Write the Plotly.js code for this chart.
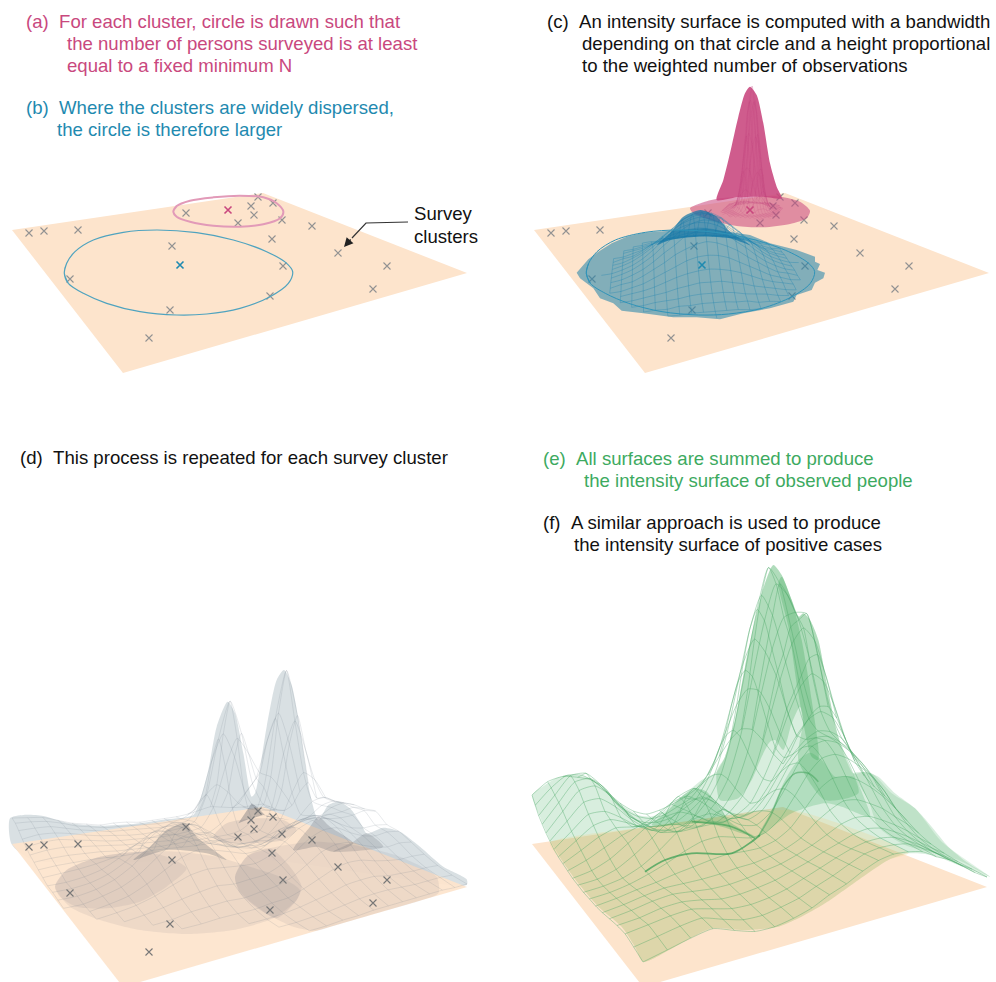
<!DOCTYPE html>
<html><head><meta charset="utf-8">
<script src="https://cdn.plot.ly/plotly-3.0.1.min.js"></script>
<style>html,body{margin:0;padding:0;background:#fff}#g{width:996px;height:982px}</style>
</head><body><div id="g"></div>
<script>
// ---------- data ----------
const planeCorners = {near:[123,373], right:[467,273], left:[12,230], back:[263,193]};
const clusterX = [29,44,78,186,258,273,251,254,238,282,312,272,172,283,338,387,373,70,270,170,149];
const clusterY = [233,231,230,213,197,203,206,215,223,220,226,239,246,266,253,266,289,279,296,310,338];
const pinkCentre = [228,210];
const blueCentre = [180,265];
// rings, in 3x crop coordinates of the first panel
const pinkRing = [[520,95],[530,78],[570,62],[640,52],[720,47],[790,52],[830,70],[850,95],[840,115],[790,133],[720,140],[640,137],[570,125],[530,110]];
const blueRing = [[193,280],[200,250],[225,215],[280,180],[370,157],[470,150],[590,158],[700,180],[800,215],[860,250],[878,275],[865,310],[810,350],[720,385],[620,402],[530,405],[420,395],[320,370],[250,340],[205,310]];
const arrowLine = [[408,222],[366,223],[352,238]];
// panel c outlines
const blueDisc = [[140,578],[165,550],[175,538],[205,515],[245,490],[290,470],[340,458],[420,452],[520,445],[660,465],[720,490],[800,510],[855,530],[855,545],[870,552],[862,570],[885,578],[880,595],[855,608],[845,630],[800,645],[790,665],[720,685],[640,700],[570,718],[500,712],[430,712],[340,700],[275,692],[250,670],[210,655],[190,625],[150,595]];
const blueDome = [[380,495],[420,460],[460,410],[512,390],[560,410],[600,455],[660,495],[600,475],[500,470],[420,480]];
const pinkPeak = [[560,360],[580,300],[600,220],[625,110],[645,40],[660,20],[680,45],[700,130],[720,250],[740,320],[755,355],[700,350],[620,352]];
const pinkDisc = [[480,385],[520,367],[570,355],[650,350],[750,350],[810,365],[840,392],[830,415],[780,432],[700,442],[620,438],[540,420],[490,400]];
const blueQuadrant = [
[57,55,50,42,33,24,16,10,6,3,2],[55,53,48,40,32,23,16,10,6,3,null],[50,48,44,36,29,21,14,9,5,3,null],
[42,40,36,31,24,18,12,7,5,2,null],[33,32,29,24,19,14,9,6,3,2,null],[24,23,21,18,14,10,7,5,3,null,null],
[16,16,14,12,9,7,5,3,2,null,null],[10,10,9,7,6,5,3,2,null,null,null],[6,6,5,5,3,3,2,null,null,null,null],
[3,3,3,2,2,null,null,null,null,null,null],[2,null,null,null,null,null,null,null,null,null,null]];
const pinkQuadrant = [
[124,109,75,40,17,5,1,1,1,1,0],[109,97,66,36,15,5,1,1,1,1,null],[75,66,46,24,10,3,1,1,1,0,null],
[40,36,24,13,5,2,1,1,1,0,null],[17,15,10,5,2,1,1,1,0,null,null],[5,5,3,2,1,1,1,0,null,null,null],
[1,1,1,1,1,1,0,null,null,null,null],[1,1,1,1,1,0,null,null,null,null,null],[1,1,1,1,0,null,null,null,null,null,null],
[1,1,0,0,null,null,null,null,null,null,null],[0,null,null,null,null,null,null,null,null,null,null]];
// panel d outlines
const greyBack = [[30,475],[70,465],[130,468],[200,488],[300,497],[400,492],[500,478],[580,465],[600,420],[625,330],[650,200],[683,125],[705,160],[730,280],[755,410],[765,400],[800,200],[830,60],[852,30],[875,75],[905,240],[930,400],[955,480],[985,435],[1015,425],[1050,445],[1085,495],[1100,520],[1150,503],[1200,515],[1260,560],[1330,620],[1400,658],[1400,675],[800,600],[100,600],[35,553]];
const discLeft = [[165,680],[200,630],[300,590],[420,575],[530,575],[650,590],[750,620],[840,650],[900,690],[890,720],[820,775],[700,810],[560,822],[420,810],[300,780],[210,740]];
const lensLeft = [[165,680],[200,630],[300,590],[420,575],[500,590],[560,625],[500,680],[420,725],[320,745],[230,740],[180,710]];
const discRight = [[705,650],[740,590],[830,560],[940,545],[1060,555],[1200,590],[1310,650],[1315,700],[1260,722],[1150,754],[1000,798],[950,812],[880,800],[780,750],[720,700]];
const lensRight = [[705,650],[745,585],[810,565],[870,620],[905,680],[890,720],[830,775],[770,740],[720,695]];
const discBack = [[640,530],[680,490],[770,475],[850,480],[890,510],[850,540],[750,550],[670,548]];
const domeA = [[400,600],[450,560],[500,510],[555,490],[590,530],[640,570],[680,600],[620,580],[500,570]];
const domeB = [[880,570],[930,500],[955,470],[990,500],[1060,550],[1000,575],[950,560]];
const domeC = [[1000,575],[1060,545],[1100,520],[1150,560],[1100,570]];
const star = [[715,490],[755,430],[770,440],[800,470],[870,480],[790,465],[745,478]];
const _ = null;
const greyHeights = [
[_,_,_,_,_,_,_,_,_,2,2,3,3,4,4,4,4,4,4,3,3],
[_,_,_,_,_,_,_,_,2,2,3,4,6,8,9,9,8,7,7,7,6],
[_,_,_,_,_,_,_,2,2,3,5,8,11,15,16,16,13,12,11,11,10],
[_,_,_,_,3,3,4,4,4,6,7,12,18,24,27,26,22,19,17,17,16],
[_,_,_,3,4,7,8,9,8,10,12,17,26,35,39,38,32,27,24,25,23],
[_,_,3,5,8,12,15,17,15,16,17,23,33,43,48,47,39,33,30,31,29],
[_,2,4,7,12,19,25,27,25,23,22,27,37,47,52,51,43,36,33,33,31],
[_,2,5,9,17,27,36,40,36,31,26,27,35,43,48,49,43,41,41,43,40],
[2,2,6,11,20,33,45,50,45,36,27,26,31,35,39,41,39,40,40,42,38],
[3,3,6,12,22,36,49,54,49,38,27,22,22,20,27,30,33,34,40,42,38],
[4,4,6,11,20,33,45,50,45,34,23,14,12,11,15,21,25,30,38,40,36],
[4,4,6,10,18,28,37,41,37,28,18,10,6,3,3,8,15,27,38,40,34],
[6,7,8,10,13,19,25,27,25,19,12,7,4,3,3,8,20,45,63,54,34],
[8,9,9,9,8,7,7,7,6,5,4,4,5,5,6,8,30,80,111,79,30],
[10,11,11,10,9,7,6,5,4,4,4,4,4,4,6,14,45,112,158,111,42],
[12,14,14,12,10,8,6,5,4,3,3,4,4,11,24,37,51,87,112,79,30],
[15,17,17,14,11,8,6,5,4,3,3,4,6,24,62,89,72,51,45,30,13],
[18,20,19,16,12,9,7,5,4,4,3,4,8,33,87,123,89,37,14,7,5],
[22,22,21,17,13,10,7,6,5,4,3,4,6,24,62,87,62,24,6,4,3],
[25,24,22,18,13,10,7,6,5,4,3,3,4,11,24,33,24,11,4,3,3],
[26,24,22,17,12,9,6,6,5,3,3,3,3,4,6,8,6,4,3,3,3]];
// panel f outlines
const greenAll = [[22,705],[60,675],[100,652],[150,645],[195,655],[240,690],[290,735],[340,765],[375,770],[410,760],[450,725],[500,685],[530,660],[575,635],[600,590],[630,480],[660,320],[690,180],[720,70],[745,15],[770,45],[800,120],[822,170],[835,160],[855,180],[880,240],[905,370],[940,530],[985,640],[1020,635],[1060,650],[1110,700],[1170,745],[1220,800],[1270,860],[1330,910],[1395,950],[1300,915],[1220,885],[1150,880],[1090,900],[1000,960],[900,1030],[820,1075],[760,1100],[660,1110],[560,1105],[450,1160],[355,1205],[330,1160],[290,1100],[220,1040],[160,970],[110,900],[75,840],[45,770]];
const greenTan = [[75,850],[370,800],[600,770],[810,752],[1150,880],[1090,900],[1000,960],[900,1030],[820,1075],[760,1100],[660,1110],[560,1105],[450,1160],[355,1205],[330,1160],[290,1100],[220,1040],[160,970],[110,900]];
const greenPeak = [[575,635],[600,590],[630,480],[660,320],[690,180],[720,70],[745,15],[770,45],[800,120],[822,170],[835,160],[855,180],[880,240],[905,370],[940,530],[985,640],[1000,700],[900,720],[820,600],[835,480],[825,440],[800,490],[775,570],[750,540],[735,545],[710,590],[680,660],[640,715],[585,720]];
const greenRidge = [[770,50],[800,120],[830,240],[860,420],[880,600],[860,590],[820,400],[790,200],[760,70]];
const greenBumpMid = [[700,830],[740,750],[780,660],[820,600],[855,578],[890,600],[930,650],[985,650],[1020,720],[1035,770],[950,740],[900,730],[800,760]];
const greenBumpLeft = [[380,795],[420,760],[470,710],[510,685],[545,695],[580,740],[620,790],[690,830],[650,820],[590,800],[530,790],[460,795]];
const greenRight = [[985,640],[1040,640],[1100,700],[1170,745],[1250,845],[1395,950],[1300,900],[1140,855],[1060,800],[1030,720]];
const creaseFront = [[360,935],[420,900],[500,880],[620,880],[680,845],[705,825]];
const creaseBack = [[500,785],[620,800],[690,835]];
const creaseRise = [[700,830],[740,760],[775,680],[810,640],[850,640],[880,665]];
const greenHeights = [
[25,30,35,38,30,23,22,25,30,38,44,52,58,60,58,54,45,38,28,18,10],
[28,32,36,38,31,25,24,27,31,38,44,51,57,59,58,55,47,39,29,20,12],
[30,33,36,37,32,27,26,28,32,38,44,50,55,58,58,55,48,40,30,22,14],
[28,30,34,35,32,28,28,30,33,38,43,49,54,59,61,58,51,43,34,25,17],
[25,28,32,34,32,30,30,32,35,38,43,49,56,63,66,64,57,49,40,30,21],
[22,25,29,32,32,32,33,35,36,39,43,50,62,71,77,75,68,60,49,39,27],
[20,23,27,30,34,37,40,42,41,41,45,54,70,86,94,93,86,76,64,50,35],
[19,21,25,31,38,46,52,53,49,45,47,58,77,97,109,110,103,92,79,63,43],
[18,20,24,32,44,58,68,70,62,52,49,59,79,102,116,119,114,103,89,72,51],
[18,20,26,37,50,64,77,81,71,57,49,55,73,95,110,117,116,108,96,78,56],
[18,22,30,42,54,66,79,84,73,57,46,49,63,83,99,111,117,114,105,86,63],
[19,26,35,44,50,57,67,71,62,49,40,41,52,70,91,111,125,130,122,102,74],
[20,30,40,46,44,44,48,50,44,36,32,37,46,68,96,128,153,164,154,127,92],
[21,34,46,49,43,36,34,33,29,26,27,35,49,75,116,158,192,206,191,154,110],
[23,38,52,52,43,32,25,22,19,20,24,34,53,87,138,185,215,218,215,172,118],
[26,43,59,60,49,34,23,16,14,16,23,36,58,98,156,210,245,232,205,165,115],
[29,48,66,68,56,38,24,15,12,14,22,36,59,101,159,218,258,240,195,145,105],
[33,52,70,71,58,38,23,14,12,14,22,33,55,93,145,196,227,205,165,125,90],
[37,55,72,72,58,38,22,14,12,14,21,29,48,78,119,158,180,165,140,105,75],
[43,58,68,66,56,40,25,16,12,14,20,26,39,59,87,113,127,124,105,79,57],
[49,60,63,60,55,42,28,18,13,15,19,24,31,43,60,75,84,82,70,55,43]];
const textLines = [
 ["(a)\u00a0\u00a0For each cluster, circle is drawn such that",24,21,"#c9487e"],
 ["the number of persons surveyed is at least",65,43,"#c9487e"],
 ["equal to a fixed minimum N",65,65,"#c9487e"],
 ["(b)\u00a0\u00a0Where the clusters are widely dispersed,",24,107,"#1f8ab0"],
 ["the circle is therefore larger",55,129,"#1f8ab0"],
 ["(c)\u00a0\u00a0An intensity surface is computed with a bandwidth",545,21,"#111"],
 ["depending on that circle and a height proportional",580,43,"#111"],
 ["to the weighted number of observations",580,65,"#111"],
 ["(d)\u00a0\u00a0This process is repeated for each survey cluster",18,457,"#111"],
 ["(e)\u00a0\u00a0All surfaces are summed to produce",541,458,"#3daa5f"],
 ["the intensity surface of observed people",582,480,"#3daa5f"],
 ["(f)\u00a0\u00a0A similar approach is used to produce",541,522,"#111"],
 ["the intensity surface of positive cases",572,544,"#111"],
 ["Survey",412,213,"#111"],["clusters",412,236,"#111"]];

// ---------- helpers ----------
const P = planeCorners;
const sumX=P.near[0]-P.right[0]+P.back[0]-P.left[0], sumY=P.near[1]-P.right[1]+P.back[1]-P.left[1];
const d1X=P.right[0]-P.back[0], d1Y=P.right[1]-P.back[1], d2X=P.left[0]-P.back[0], d2Y=P.left[1]-P.back[1];
const det=d1X*d2Y-d1Y*d2X, g=(sumX*d2Y-sumY*d2X)/det, h=(d1X*sumY-d1Y*sumX)/det;
const a11=P.right[0]-P.near[0]+g*P.right[0], a12=P.left[0]-P.near[0]+h*P.left[0];
const a21=P.right[1]-P.near[1]+g*P.right[1], a22=P.left[1]-P.near[1]+h*P.left[1];
function ground(u,v){const w=1+g*u+h*v;return [(a11*u+a12*v+P.near[0])/w,(a21*u+a22*v+P.near[1])/w];}
const traces=[];
function crop(pts,x0,y0){return pts.map(p=>[p[0]/3+x0,p[1]/3+y0]);}
function poly(pts,color,smooth){const c=pts.concat([pts[0]]);
 traces.push({type:'scatter',mode:'lines',x:c.map(p=>p[0]),y:c.map(p=>p[1]),fill:'toself',fillcolor:color,line:{width:0,color:color,shape:smooth?'spline':'linear',smoothing:0.7},hoverinfo:'skip'});}
function line(pts,color,w,shape){
 traces.push({type:'scatter',mode:'lines',x:pts.map(p=>p[0]),y:pts.map(p=>p[1]),line:{color:color,width:w,shape:shape||'spline',smoothing:0.9},hoverinfo:'skip'});}
function plane(dx,dy,color){poly([P.near,P.right,P.back,P.left].map(p=>[p[0]+dx,p[1]+dy]),color);}
function marks(xs,ys,dx,dy,color,w,size){
 traces.push({type:'scatter',mode:'markers',x:xs.map(v=>v+dx),y:ys.map(v=>v+dy),hoverinfo:'skip',
  marker:{symbol:'x-thin',size:size||7,color:color,line:{color:color,width:w||1.1}}});}
function mesh(H,where,dx,dy,color,w){
 const xs=[],ys=[],R=H.length,C=H[0].length;
 const add=(r,c)=>{const z=H[r][c];if(z===null){xs.push(null);ys.push(null);return;}
  const uv=where(r,c),p=ground(uv[0],uv[1]);xs.push(p[0]+dx);ys.push(p[1]+dy-z);};
 for(let r=0;r<R;r++){for(let c=0;c<C;c++)add(r,c);xs.push(null);ys.push(null);}
 for(let c=0;c<C;c++){for(let r=0;r<R;r++)add(r,c);xs.push(null);ys.push(null);}
 traces.push({type:'scatter',mode:'lines',x:xs,y:ys,connectgaps:false,line:{color:color,width:w,shape:'spline',smoothing:0.6},hoverinfo:'skip'});
}
function mirror(Q){const half=Q.map(r=>r.slice().reverse().concat(r.slice(1)));return half.slice().reverse().concat(half.slice(1));}
const closed=p=>[p[p.length-1]].concat(p,[p[0],p[1]]);
const wholePlane=(r,c)=>[c*0.05,r*0.05];

// ---------- panel a/b ----------
plane(0,0,'#fde4cc');
marks(clusterX,clusterY,0,0,'#929292');
marks([pinkCentre[0]],[pinkCentre[1]],0,0,'#c9487e',1.6);
marks([blueCentre[0]],[blueCentre[1]],0,0,'#1f8ab0',1.6);
line(closed(crop(pinkRing,0,180)),'#e29ab8',2);
line(closed(crop(blueRing,0,180)),'#4fa3bf',1.2);
line(arrowLine,'#333',1.2,'linear');

// ---------- panel c ----------
plane(522,0,'#fde4cc');
marks(clusterX,clusterY,522,0,'#929292');
poly(crop(pinkDisc,530,80),'rgba(200,70,125,0.55)',true);
poly(crop(pinkPeak,530,80),'rgba(200,70,125,0.88)',true);
mesh(mirror(pinkQuadrant),(r,c)=>[0.625+c*0.0125,0.725+r*0.0125],522,0,'rgba(190,60,120,0.3)',0.5);
marks([pinkCentre[0]],[pinkCentre[1]],522,0,'#c9487e',1.6);
poly(crop(blueDisc,530,80),'rgba(30,130,170,0.55)');
mesh(mirror(blueQuadrant),(r,c)=>[0.325+(c-10)*0.0255+(r-10)*0.0105,0.405-(c-10)*0.0093+(r-10)*0.028],522,0,'rgba(25,130,175,0.55)',0.6);
poly(crop(blueDome,530,80),'rgba(15,115,165,0.7)',true);
line(closed(crop(blueRing,522,180)),'#2f93b8',1);
marks([blueCentre[0]],[blueCentre[1]],522,0,'#1f8ab0',1.6);

// ---------- panel d ----------
poly(crop(greyBack,0,660),'rgba(165,182,188,0.42)',true);
plane(0,614,'rgba(253,228,204,0.93)');
poly(crop(discLeft,0,660),'rgba(110,110,125,0.1)',true);
poly(crop(discRight,0,660),'rgba(110,110,125,0.1)',true);
poly(crop(discBack,0,660),'rgba(110,110,125,0.14)',true);
poly(crop(lensLeft,0,660),'rgba(110,110,125,0.1)',true);
poly(crop(lensRight,0,660),'rgba(110,110,125,0.12)',true);
poly(crop(domeA,0,660),'rgba(100,105,115,0.3)',true);
poly(crop(domeB,0,660),'rgba(100,105,115,0.26)',true);
poly(crop(domeC,0,660),'rgba(100,105,115,0.22)',true);
poly(crop(star,0,660),'rgba(90,95,105,0.35)');
mesh(greyHeights,wholePlane,0,614,'rgba(110,125,135,0.27)',0.6);
marks(clusterX,clusterY,0,614,'#777');

// ---------- panel e/f ----------
plane(520,614,'#fde4cc');
poly(crop(greenAll,525,560),'rgba(60,170,90,0.2)',true);
poly(crop(greenTan,525,560),'rgba(240,210,140,0.27)',true);
poly(crop(greenPeak,525,560),'rgba(60,170,90,0.26)',true);
poly(crop(greenRight,525,560),'rgba(60,170,90,0.16)',true);
poly(crop(greenRidge,525,560),'rgba(60,170,90,0.3)',true);
poly(crop(greenBumpMid,525,560),'rgba(60,170,90,0.24)',true);
poly(crop(greenBumpLeft,525,560),'rgba(60,170,90,0.3)',true);
mesh(greenHeights,wholePlane,520,614,'rgba(70,165,100,0.55)',0.7);
line(crop(creaseFront,525,560),'rgba(60,160,85,0.75)',1.8);
line(crop(creaseBack,525,560),'rgba(60,160,85,0.65)',1.6);
line(crop(creaseRise,525,560),'rgba(60,160,85,0.5)',1.5);

const annotations=textLines.map(t=>({text:t[0],x:t[1],y:t[2],xref:'x',yref:'y',xanchor:'left',yanchor:'middle',showarrow:false,
  font:{family:'Liberation Sans, Arial, sans-serif',size:18.6,color:t[3]}}));
annotations.push({x:344,y:247,ax:arrowLine[2][0],ay:arrowLine[2][1],xref:'x',yref:'y',axref:'x',ayref:'y',text:'',showarrow:true,arrowhead:2,arrowsize:1.4,arrowwidth:1.3,arrowcolor:'#222'});
const axis={range:[0,996],visible:false,fixedrange:true};
Plotly.newPlot('g',traces,{width:996,height:982,margin:{l:0,r:0,t:0,b:0},showlegend:false,paper_bgcolor:'#fff',plot_bgcolor:'#fff',
 xaxis:axis,yaxis:{range:[982,0],visible:false,fixedrange:true},annotations:annotations,hovermode:false},{displayModeBar:false,staticPlot:true});
</script></body></html>
